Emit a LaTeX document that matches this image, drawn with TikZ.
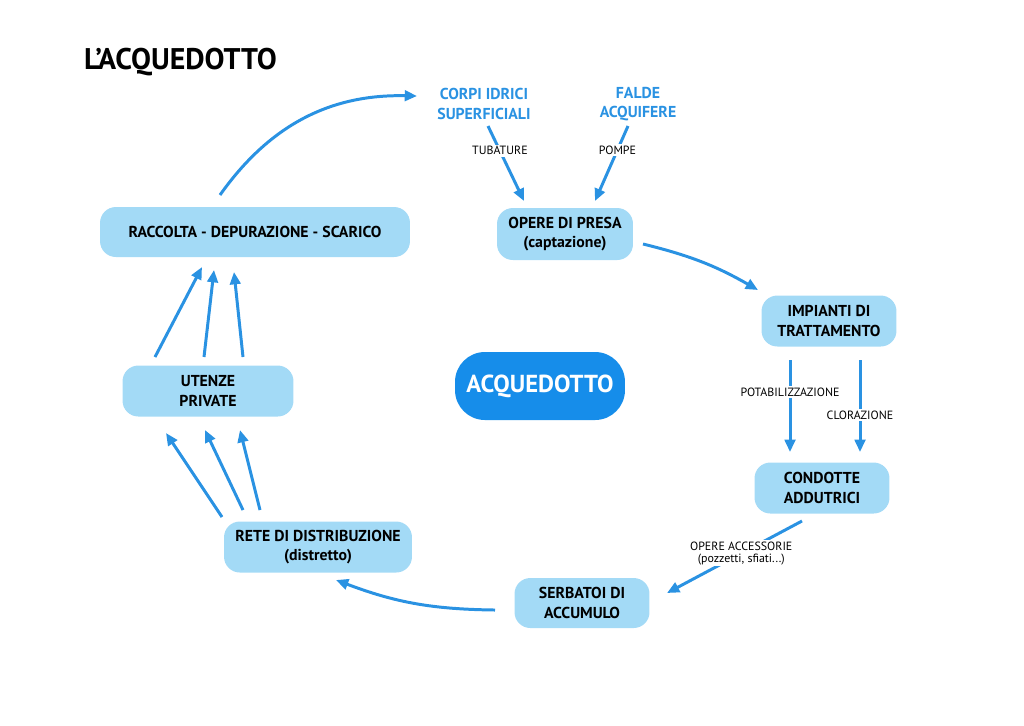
\documentclass[tikz,border=0pt]{standalone}
\usepackage{fontspec}
\setmainfont{PT Sans}
\usetikzlibrary{arrows.meta,positioning}
\definecolor{boxblue}{HTML}{A3DAF6}
\definecolor{arrblue}{HTML}{2A92E2}
\definecolor{midblue}{HTML}{168DEA}
\begin{document}
\begin{tikzpicture}[x=0.02cm,y=-0.02cm, >={Triangle[length=7pt,width=6pt]},
    box/.style={rounded corners=9pt,fill=boxblue,font=\bfseries\fontsize{9}{11}\selectfont,align=center,inner sep=0pt},
    source/.style={text=arrblue,font=\bfseries\fontsize{9}{11}\selectfont,align=center},
    lbl/.style={fill=white,font=\fontsize{6.8}{7.5}\selectfont,align=center,inner sep=1pt},
    flow/.style={->,draw=arrblue,line width=1.7pt}]
  \useasboundingbox (0,0) rectangle (1024,725);
  \node[anchor=west,font=\bfseries\fontsize{17}{19}\selectfont] (title) at (78,62) {L’ACQUEDOTTO};
  % nodes
  \node[source] (corpi) at (484,104) {CORPI IDRICI\\SUPERFICIALI};
  \node[source] (falde) at (638,104) {FALDE\\ACQUIFERE};
  \node[box,minimum width=2.72cm,minimum height=1.04cm] (presa) at (565,234) {OPERE DI PRESA\\(captazione)};
  \node[box,minimum width=2.7cm,minimum height=1.02cm] (impianti) at (829,321) {IMPIANTI DI\\TRATTAMENTO};
  \node[box,minimum width=2.7cm,minimum height=1.02cm] (condotte) at (822,488) {CONDOTTE\\ADDUTRICI};
  \node[box,minimum width=2.7cm,minimum height=1.0cm] (serbatoi) at (582,603) {SERBATOI DI\\ACCUMULO};
  \node[box,minimum width=3.76cm,minimum height=1.02cm] (rete) at (318,547) {RETE DI DISTRIBUZIONE\\(distretto)};
  \node[box,minimum width=3.42cm,minimum height=1.02cm] (utenze) at (208,391) {UTENZE\\PRIVATE};
  \node[box,minimum width=6.2cm,minimum height=1.0cm] (raccolta) at (255,232) {RACCOLTA - DEPURAZIONE - SCARICO};
  \node[rounded corners=17pt,fill=midblue,text=white,font=\bfseries\fontsize{14}{16}\selectfont,minimum width=3.4cm,minimum height=1.36cm] (acq) at (540,386) {ACQUEDOTTO};
  % connectors
  \coordinate (rtop) at (220,195);
  \coordinate (ctop) at (417,96);
  \draw[flow] (rtop) to[bend left=28] (ctop);
  \coordinate (c1) at (488,126);
  \coordinate (p1) at (524,201);
  \coordinate (p2) at (595,201);
  \coordinate (f1) at (628,126);
  \draw[flow] (c1) -- (p1) node[lbl,pos=0.33] {TUBATURE};
  \draw[flow] (f1) -- (p2) node[lbl,pos=0.32] {POMPE};
  \coordinate (a1) at (643,244);
  \coordinate (a2) at (758,290);
  \draw[flow] (a1) to[bend left=8] (a2);
  \coordinate (i1) at (790,360); \coordinate (i2) at (790,452);
  \coordinate (i3) at (860,360); \coordinate (i4) at (860,452);
  \draw[flow] (i1) -- (i2) node[lbl,pos=0.35] {POTABILIZZAZIONE};
  \draw[flow] (i3) -- (i4) node[lbl,pos=0.6] {CLORAZIONE};
  \coordinate (d1) at (802,521); \coordinate (d2) at (667,593);
  \draw[flow] (d1) -- (d2) node[lbl,pos=0.45] {OPERE ACCESSORIE\\[-1pt](pozzetti, sfiati...)};
  \coordinate (s1) at (495,610); \coordinate (s2) at (336,580);
  \draw[flow] (s1) to[bend right=-10] (s2);
  \foreach \xa/\ya/\xb/\yb in {222/517/166/433, 243/510/205/430, 260/510/240/430}
    \draw[flow] (\xa,\ya) -- (\xb,\yb);
  \foreach \xa/\ya/\xb/\yb in {155/357/202/267, 204/357/214/270, 243/357/234/272}
    \draw[flow] (\xa,\ya) -- (\xb,\yb);
\end{tikzpicture}
\end{document}
